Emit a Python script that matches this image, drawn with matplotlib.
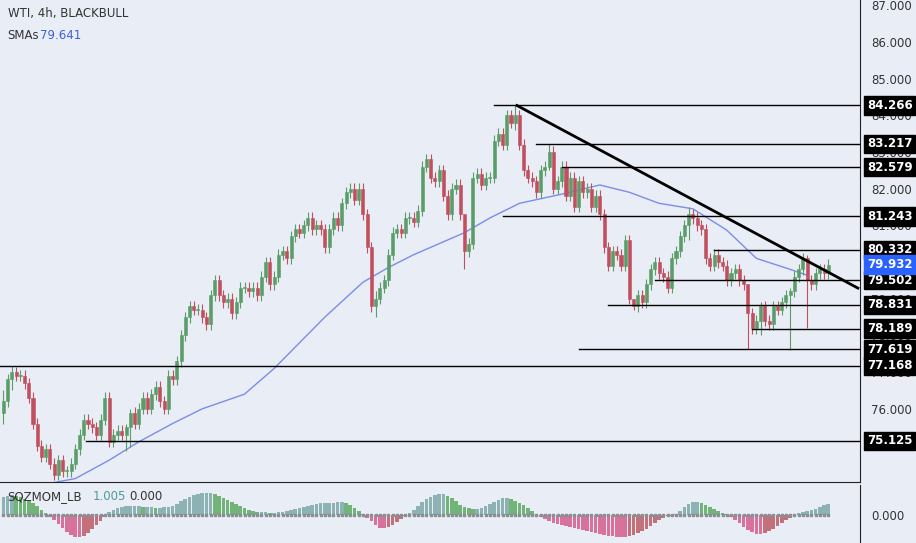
import numpy as np
import matplotlib
matplotlib.use("Agg")
import matplotlib.pyplot as plt
import matplotlib.transforms as mtransforms

# closes, one per 4h candle
closes = [
    76.2, 76.8, 77.0, 76.9, 76.9, 76.7, 76.3, 75.6, 75.0, 74.7, 74.9,
    74.5, 74.2, 74.6, 74.3, 74.3, 74.5, 74.9, 75.3, 75.7, 75.6, 75.5, 75.3, 75.7, 76.3,
    75.1, 75.3, 75.4, 75.3, 75.5, 75.9, 75.6, 76.0, 76.3, 76.0, 76.4, 76.6,
    76.2, 76.0, 76.9, 76.8, 77.3, 78.0, 78.5, 78.8, 78.7,
    78.7, 78.5, 78.3, 79.1, 79.5, 79.1, 78.9, 79.0, 78.6, 78.9, 79.3, 79.3,
    79.2, 79.3, 79.1, 79.6, 80.0, 79.4, 79.6, 80.2, 80.3, 80.1, 80.7,
    80.9, 80.8, 81.0, 81.2, 80.9, 81.0, 80.9, 80.4, 80.9, 81.2, 81.0,
    81.6, 81.9, 82.0, 81.7, 82.0, 81.3, 80.4, 78.8, 79.0, 79.3,
    79.5, 80.2, 80.8, 80.9, 80.8, 81.2, 81.2, 81.1, 81.4, 82.6, 82.8, 82.3,
    82.2, 82.5, 81.8, 81.3, 82.0, 82.1, 81.3, 80.3, 80.5,
    82.3, 82.4, 82.1, 82.3, 82.3, 83.3, 83.5, 83.2, 84.0, 83.8, 84.0,
    83.2, 82.5, 82.3, 82.2, 81.9, 82.5, 82.6, 83.0, 82.0, 82.2, 82.6, 81.8,
    82.3, 81.5, 82.2, 81.9, 82.0, 81.5, 81.8, 81.3, 80.4, 79.9, 80.3, 80.2, 79.9,
    80.6, 79.0, 78.8, 79.1, 78.9, 79.4, 79.8, 80.0, 79.7, 79.6, 79.3,
    80.1, 80.3, 80.7, 81.0, 81.3, 81.2, 81.0, 80.9, 80.1, 79.9,
    80.2, 80.0, 79.9, 79.5, 79.7, 79.8, 79.5, 79.4,
    78.6, 78.2, 78.4, 78.8, 78.4, 78.3, 78.8, 78.7,
    78.9, 79.1, 79.2, 79.6, 79.8, 80.1, 79.5, 79.4, 79.7, 79.8, 79.7, 79.932,
]
first_open = 75.9
wick = 0.15
# candles with long wicks: index -> (high, low)
extreme_wicks = {
    0: (76.5, 75.6), 2: (77.17, 76.5), 29: (75.6, 74.85), 30: (76.0, 74.95),
    88: (79.2, 78.5), 109: (81.0, 79.8), 121: (84.266, 83.6), 129: (83.217, 82.5),
    149: (79.0, 78.7), 162: (81.5, 80.6), 176: (79.4, 77.62), 179: (78.9, 78.0),
    186: (79.3, 77.6), 190: (80.2, 78.2),
}

# SMA read at a few candles
sma_idx = [10, 17, 25, 32, 40, 47, 57, 64, 70, 76, 85, 91, 97, 103, 109, 115, 122, 132,
           141, 148, 155, 163, 171, 178, 186, 190]
sma_val = [73.95, 74.1, 74.6, 75.1, 75.6, 76.0, 76.4, 77.1, 77.8, 78.5, 79.45, 79.85,
           80.2, 80.5, 80.8, 81.2, 81.6, 81.85, 82.1, 81.9, 81.6, 81.45, 80.87, 80.1,
           79.8, 79.64]

# horizontal levels and the candle where each starts
levels = [84.266, 83.217, 82.579, 81.243, 80.332, 79.502, 78.831, 78.189, 77.619, 77.168, 75.125]
level_start = [116, 126, 132, 118, 168, 154, 143, 177, 136, -1, 19.5]
trend_start = (121.4, 84.266)
trend_end = (202, 79.29)

# squeeze momentum histogram (arbitrary units)
sqz = [18, 19, 20, 19, 18, 16, 14, 12, 9, 5, 2,
       -2, -5, -9, -13, -17, -20, -22, -22, -21, -18, -14, -10, -6, -2,
       3, 5, 7, 8, 9, 9, 9, 9, 8, 8, 8, 7, 7, 8, 8, 9,
       11, 14, 16, 18, 20, 21, 22, 22, 22, 21, 19, 17, 15, 13, 11, 9, 7, 5, 4, 3,
       3, 3, 2, 2, 3, 3, 4,
       5, 6, 7, 8, 9, 10, 11, 12, 12, 12, 12, 13, 13, 12, 10, 7, 4, 1,
       -3, -6, -10, -13, -13, -12, -10, -7, -4, -1,
       2, 5, 9, 13, 16, 18, 20, 21, 21, 19, 17, 14,
       10, 8, 7, 6, 6, 7,
       9, 11, 13, 15, 17, 17, 16, 14, 12, 10, 7, 4, 1,
       -2, -4, -6, -8, -9, -10, -11, -12, -13, -14, -15, -16, -17, -18, -19, -20,
       -21, -21, -22, -22, -22, -21, -20, -18, -16, -14, -11, -8, -5, -3, -1,
       -1, 1, 4, 8, 11, 13, 13, 12, 10, 8, 6, 4, 2, 1,
       -2, -5, -8, -12, -15, -17, -19, -19, -18, -16, -14, -11, -8, -5, -3, -1,
       2, 3, 4, 5, 6, 8, 10, 11]

BG = "#e9edf6"
UP = "#5b9d68"
DOWN = "#c14f5e"
XMAX = 202.5

fig = plt.figure(figsize=(9.16, 5.43), dpi=100)
fig.patch.set_facecolor(BG)
ax = fig.add_axes([0, 61 / 543, 860 / 916, 482 / 543])
ax2 = fig.add_axes([0, 0, 860 / 916, 58 / 543])
for a in (ax, ax2):
    a.set_facecolor(BG)
    a.set_xlim(-0.8, XMAX)
    a.set_xticks([])
    for s in ("top", "left"):
        a.spines[s].set_visible(False)
    a.spines["right"].set_color("#222")
    a.spines["bottom"].set_color("#222")
    a.yaxis.tick_right()
    a.tick_params(axis="y", length=0, labelsize=8.5, labelcolor="#333", pad=8)

# candles
n = len(closes)
opens = [first_open] + closes[:-1]
for i in range(n):
    o, c = opens[i], closes[i]
    hi, lo = extreme_wicks.get(i, (max(o, c) + wick, min(o, c) - wick))
    col = UP if c >= o else DOWN
    ax.vlines(i, lo, hi, color=col, lw=0.8, zorder=3)
    ax.bar(i, max(abs(c - o), 0.03), bottom=min(o, c), width=0.72, color=col,
           edgecolor=col, lw=0.4, zorder=4)

ax.plot(sma_idx, sma_val, color="#7b8ee6", lw=1.0, zorder=2)

for lv, st in zip(levels, level_start):
    ax.plot([st, XMAX], [lv, lv], color="black", lw=1.0, zorder=5)
ax.plot([trend_start[0], trend_end[0]], [trend_start[1], trend_end[1]], color="black", lw=2.0, zorder=6)

ax.set_ylim(87 - 482 / 36.7 + 0.14, 87.14)
ax.set_yticks(range(75, 88))
ax.yaxis.set_major_formatter(matplotlib.ticker.FormatStrFormatter("%.3f"))

trans = mtransforms.blended_transform_factory(ax.transAxes, ax.transData)
for lv in levels:
    ax.text(1.008, lv, f"{lv:.3f}", transform=trans, fontsize=8.5, fontweight="bold", color="white",
            va="center", ha="left", zorder=10, clip_on=False,
            bbox=dict(boxstyle="square,pad=0.22", fc="black", ec="black"))
ax.text(1.008, closes[-1], f"{closes[-1]:.3f}", transform=trans, fontsize=8.5, fontweight="bold",
        color="white", va="center", ha="left", zorder=10, clip_on=False,
        bbox=dict(boxstyle="square,pad=0.22", fc="#2962ff", ec="#2962ff"))

ax.text(0.009, 0.985, "WTI, 4h, BLACKBULL", transform=ax.transAxes, fontsize=8.5, color="#333",
        va="top")
ax.text(0.009, 0.94, "SMAs", transform=ax.transAxes, fontsize=8.5, color="#333", va="top")
ax.text(0.047, 0.94, "79.641", transform=ax.transAxes, fontsize=8.5, color="#3d63d8", va="top")

# squeeze momentum
cols = []
for i, v in enumerate(sqz):
    prev = sqz[i - 1] if i > 0 else v
    if v >= 0:
        cols.append("#8cb2b4" if v >= prev else "#72b478")
    else:
        cols.append("#d9729b" if v <= prev else "#c4707a")
ax2.bar(range(len(sqz)), sqz, width=0.85, color=cols, zorder=2)
ax2.scatter(range(len(sqz)), [0] * len(sqz), marker="s", s=3, color="#8a8f93", zorder=3)
ax2.set_ylim(-28, 30)
ax2.set_yticks([0])
ax2.set_yticklabels(["0.000"])
ax2.spines["bottom"].set_visible(False)
ax2.text(0.009, 0.8, "SQZMOM_LB", transform=ax2.transAxes, fontsize=8.5, color="#333", va="center")
ax2.text(0.108, 0.8, "1.005", transform=ax2.transAxes, fontsize=8.5, color="#4f9a9a", va="center")
ax2.text(0.15, 0.8, "0.000", transform=ax2.transAxes, fontsize=8.5, color="#333", va="center")

fig.savefig("out.png", dpi=100, facecolor=BG)
